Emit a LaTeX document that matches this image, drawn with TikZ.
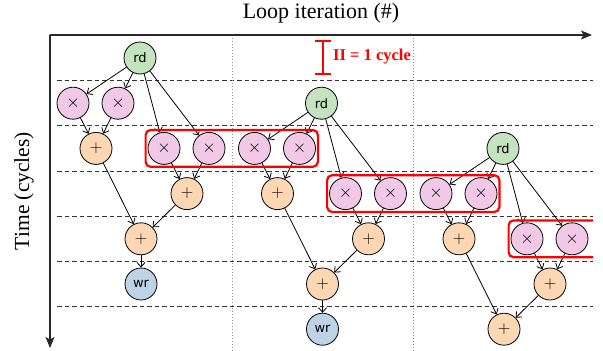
\documentclass[tikz,border=0pt]{standalone}
\usepackage{fontspec}
\setmainfont{Liberation Serif}
\newfontfamily\nodefont{DejaVu Sans}
\usetikzlibrary{arrows.meta,fit}
\definecolor{rdgreen}{RGB}{196,228,191}
\definecolor{mulpink}{RGB}{241,200,230}
\definecolor{addorange}{RGB}{253,215,180}
\definecolor{wrblue}{RGB}{190,212,230}
\definecolor{axisgray}{RGB}{40,40,40}
\begin{document}
\begin{tikzpicture}[x=1pt,y=-1pt,
  op/.style={circle, draw=black, line width=0.8pt, minimum size=32pt, inner sep=0pt},
  rdn/.style={op, fill=rdgreen, font=\nodefont\fontsize{13}{13}\selectfont},
  wrn/.style={op, fill=wrblue, font=\nodefont\fontsize{13}{13}\selectfont},
  muln/.style={op, fill=mulpink, font=\fontsize{16}{16}\selectfont},
  addn/.style={op, fill=addorange, font=\fontsize{18}{18}\selectfont},
  conn/.style={draw=black, line width=0.8pt, -{Straight Barb[length=4.5pt,width=8pt]}},
  axisline/.style={draw=axisgray, line width=1.4pt, -{Stealth[length=11pt,width=9pt,inset=2.5pt]}},
  rowline/.style={draw=black!80, line width=1pt, dash pattern=on 4.5pt off 3pt},
  colline/.style={draw=black!45, line width=0.7pt, dash pattern=on 1pt off 2pt},
  redbox/.style={draw=red, line width=2.2pt, rounded corners=5pt, inner sep=2pt},
  lbl/.style={inner sep=0pt}
]
\useasboundingbox (0,0) rectangle (603,351);

% grid
\foreach \r in {80.6,125.8,171,216.2,261.4,306.6} {
  \draw[rowline] (57,\r) -- (593,\r);
}
\foreach \c in {232,413} {
  \draw[colline] (\c,35) -- (\c,351);
}

% axes
\coordinate (O) at (50,35);
\coordinate (xend) at (592,35);
\coordinate (yend) at (50,348);
\draw[axisline] (O) -- (xend);
\draw[axisline] (O) -- (yend);
\node[lbl, font=\fontsize{22}{24}\selectfont] (xlabel) at (321,13) {Loop iteration (\#)};
\node[lbl, font=\fontsize{21.5}{24}\selectfont, rotate=90] (ylabel) at (24,191) {Time (cycles)};

% II marker
\coordinate (iitop) at (323,41);
\coordinate (iibot) at (323,74);
\draw[red, line width=2pt] (iitop) -- (iibot);
\draw[red, line width=2pt] ([xshift=-8pt]iitop) -- ([xshift=8pt]iitop);
\draw[red, line width=2pt] ([xshift=-8pt]iibot) -- ([xshift=8pt]iibot);
\node[lbl, anchor=west, text=red, font=\bfseries\fontsize{16.5}{18}\selectfont] (iilabel) at (333,57) {II = 1 cycle};

% iterations
\foreach \i in {0,1,2} {
  \pgfmathsetmacro\dx{181.5*\i}
  \pgfmathsetmacro\dy{45.2*\i}
  \begin{scope}[shift={(\dx,\dy)}]
    \node[rdn]  (rd\i) at (140,58)    {rd};
    \node[muln] (ma\i) at (73,103.2)  {$\times$};
    \node[muln] (mb\i) at (118,103.2) {$\times$};
    \node[addn] (pa\i) at (96,148.4)  {$+$};
    \node[muln] (mc\i) at (164,148.4) {$\times$};
    \node[muln] (md\i) at (209,148.4) {$\times$};
    \node[addn] (pb\i) at (187,193.6) {$+$};
    \node[addn] (pc\i) at (141,238.8) {$+$};
  \end{scope}
  \draw[conn] (rd\i) -- (ma\i);
  \draw[conn] (rd\i) -- (mb\i);
  \draw[conn] (rd\i) -- (mc\i);
  \draw[conn] (rd\i) -- (md\i);
  \draw[conn] (ma\i) -- (pa\i);
  \draw[conn] (mb\i) -- (pa\i);
  \draw[conn] (mc\i) -- (pb\i);
  \draw[conn] (md\i) -- (pb\i);
  \draw[conn] (pa\i) -- (pc\i);
  \draw[conn] (pb\i) -- (pc\i);
}
\node[wrn] (wr0) at (141,284) {wr};
\node[wrn] (wr1) at (322.5,329.2) {wr};
\draw[conn] (pc0) -- (wr0);
\draw[conn] (pc1) -- (wr1);

% red groups
\node[redbox, fit=(mc0)(mb1)] (box0) {};
\node[redbox, fit=(mc1)(mb2)] (box1) {};
\begin{scope}
  \clip (0,0) rectangle (593,351);
  \coordinate (farright) at (680,239);
  \node[redbox, fit=(mc2)(md2)(farright)] (box2) {};
\end{scope}
\end{tikzpicture}
\end{document}
